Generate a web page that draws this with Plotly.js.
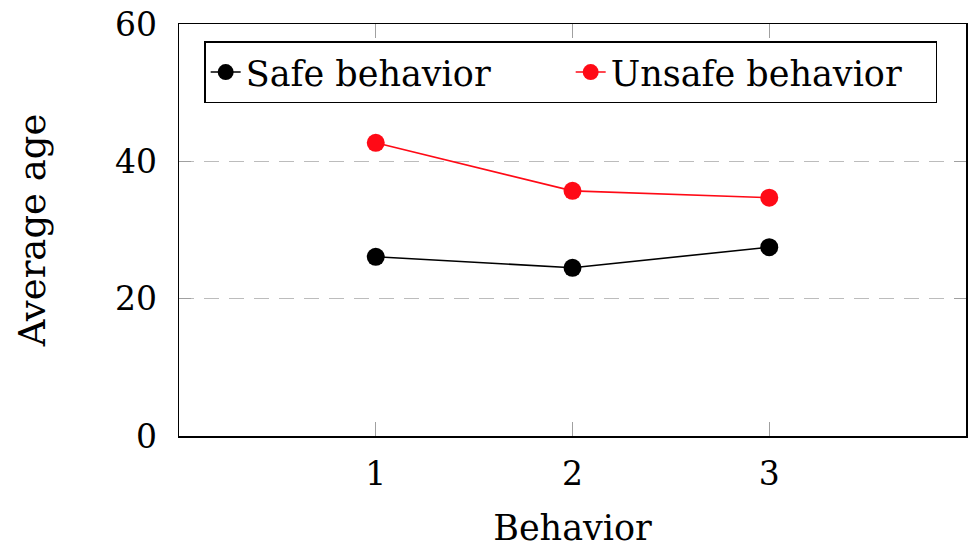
<!DOCTYPE html>
<html>
<head>
<meta charset="utf-8">
<script src="https://cdn.plot.ly/plotly-3.0.1.min.js"></script>
<style>
  html, body { margin: 0; padding: 0; background: #fff; }
  #chart { width: 969px; height: 548px; }
</style>
</head>
<body>
<div id="chart"></div>
<script>
// Average age per behavior level, split by safe / unsafe behavior
const behaviors = [1, 2, 3];
const safeAge = [26.1, 24.5, 27.5];
const unsafeAge = [42.7, 35.7, 34.7];
const xTicks = [1, 2, 3];
const yTicks = [0, 20, 40, 60];

const serif = 'DejaVu Serif';

const traces = [
  {
    x: behaviors, y: safeAge, name: 'Safe behavior',
    type: 'scatter', mode: 'lines+markers',
    line: { color: '#000000', width: 1.6 },
    marker: { color: '#000000', size: 18 }
  },
  {
    x: behaviors, y: unsafeAge, name: 'Unsafe behavior',
    type: 'scatter', mode: 'lines+markers',
    line: { color: '#ff0a16', width: 1.6 },
    marker: { color: '#ff0a16', size: 18 }
  }
];

const layout = {
  width: 969, height: 548,
  margin: { l: 179, r: 3, t: 24, b: 112 },
  paper_bgcolor: '#ffffff', plot_bgcolor: '#ffffff',
  font: { family: serif, size: 33, color: '#000000' },
  showlegend: true,
  legend: {
    orientation: 'h', x: 0.032, y: 0.958, xanchor: 'left', yanchor: 'top',
    bordercolor: '#000000', borderwidth: 1.5, bgcolor: '#ffffff',
    font: { family: serif, size: 35, color: '#000000' },
    entrywidth: 320, entrywidthmode: 'pixels', tracegroupgap: 0
  },
  xaxis: {
    range: [0, 4], tickvals: xTicks, ticktext: xTicks.map(String),
    showgrid: false, zeroline: false,
    showline: true, linecolor: '#000000', linewidth: 1.5, mirror: 'ticks',
    ticks: 'inside', ticklen: 14, tickcolor: '#a0a0a0', tickwidth: 1,
    tickfont: { family: serif, size: 33 }, ticklabelstandoff: 8,
    title: { text: 'Behavior', font: { family: serif, size: 35 }, standoff: 26 }
  },
  yaxis: {
    range: [0, 60], tickvals: yTicks, ticktext: yTicks.map(String),
    showgrid: true, gridcolor: '#bcbcbc', gridwidth: 1.5, griddash: '15px,10px',
    zeroline: false,
    showline: true, linecolor: '#000000', linewidth: 1.5, mirror: 'ticks',
    ticks: 'inside', ticklen: 12, tickcolor: '#a0a0a0', tickwidth: 1,
    tickfont: { family: serif, size: 33 }, ticklabelstandoff: 14,
    title: { text: 'Average age', font: { family: serif, size: 37 }, standoff: 58 }
  }
};

Plotly.newPlot('chart', traces, layout, { displayModeBar: false, staticPlot: true });
</script>
</body>
</html>
